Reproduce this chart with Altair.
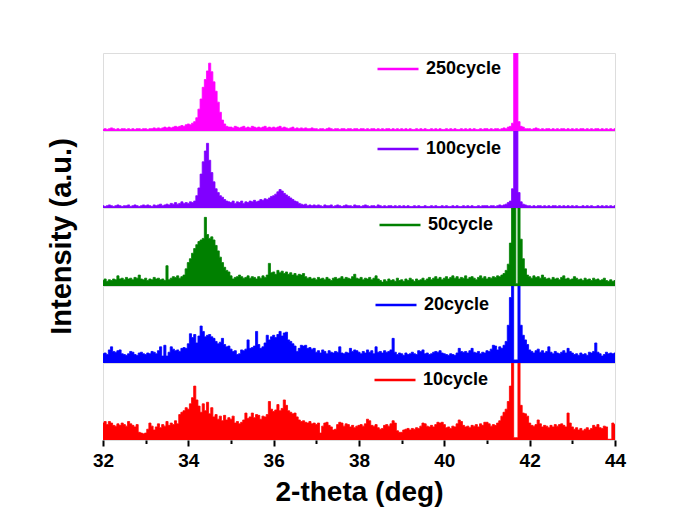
import altair as alt
import pandas as pd

# ---------------- data (percent of each panel's height, 0.05 deg steps from 32.00) ----------------
X_START = 32.0
X_STEP = 0.05
TICK_VALUES = list(range(32, 45))
SERIES_NAMES = ["250cycle", "100cycle", "50cycle", "20cycle", "10cycle"]
SERIES_COLORS = ["#FF00FF", "#8000FF", "#008000", "#0000FF", "#FF0000"]

C250 = [
    [2, 3, 2, 3, 4, 3, 2, 3, 2, 3, 3, 2, 3, 2, 3, 2, 3, 3, 2, 3],
    [3, 2, 3, 3, 4, 3, 4, 3, 4, 5, 4, 5, 4, 5, 6, 5, 6, 7, 6, 8],
    [9, 8, 10, 12, 17, 28, 41, 56, 66, 77, 87, 76, 63, 51, 37, 24, 14, 9, 6, 5],
    [5, 4, 6, 5, 4, 5, 6, 4, 5, 4, 6, 5, 4, 5, 4, 5, 6, 4, 5, 4],
    [5, 4, 5, 6, 4, 5, 4, 3, 4, 5, 3, 4, 3, 4, 3, 4, 3, 3, 4, 3],
    [3, 2, 3, 3, 2, 3, 4, 3, 2, 3, 3, 2, 3, 3, 2, 3, 3, 2, 3, 3],
    [2, 3, 3, 2, 3, 2, 3, 3, 2, 3, 2, 3, 2, 3, 3, 2, 3, 2, 3, 2],
    [3, 2, 3, 2, 3, 2, 2, 3, 2, 3, 2, 3, 2, 2, 3, 2, 3, 2, 3, 2],
    [2, 3, 2, 3, 2, 3, 2, 2, 3, 2, 3, 2, 3, 2, 3, 2, 2, 3, 2, 3],
    [3, 2, 3, 2, 3, 3, 2, 3, 4, 3, 5, 6, 10, 130, 130, 12, 6, 5, 3, 3],
    [3, 2, 3, 4, 3, 2, 3, 2, 3, 3, 2, 3, 2, 3, 2, 3, 3, 2, 3, 2],
    [3, 2, 3, 2, 3, 3, 2, 3, 2, 3, 2, 3, 3, 2, 3, 2, 3, 2, 3, 2],
    [3],
]

C100 = [
    [3, 2, 3, 4, 3, 2, 3, 4, 3, 2, 3, 3, 4, 2, 3, 4, 3, 2, 3, 4],
    [3, 4, 3, 2, 4, 3, 4, 5, 3, 4, 5, 4, 6, 5, 7, 5, 6, 8, 6, 7],
    [6, 8, 7, 9, 16, 26, 44, 60, 74, 84, 62, 46, 34, 25, 20, 16, 14, 11, 9, 8],
    [7, 9, 6, 8, 7, 9, 6, 8, 7, 9, 8, 10, 8, 9, 11, 10, 12, 11, 13, 15],
    [16, 18, 21, 24, 22, 19, 17, 15, 13, 11, 9, 8, 6, 5, 4, 5, 3, 4, 3, 4],
    [3, 4, 3, 2, 4, 3, 3, 4, 2, 3, 4, 3, 2, 3, 4, 3, 3, 2, 4, 3],
    [3, 2, 3, 4, 3, 2, 3, 3, 2, 4, 3, 2, 3, 2, 3, 3, 2, 3, 2, 3],
    [2, 3, 2, 3, 2, 2, 3, 2, 3, 2, 2, 3, 2, 2, 3, 2, 3, 2, 2, 3],
    [2, 3, 2, 2, 3, 2, 3, 2, 2, 3, 2, 3, 2, 3, 2, 2, 3, 2, 3, 3],
    [3, 2, 3, 3, 2, 3, 4, 3, 4, 5, 7, 9, 25, 130, 130, 20, 8, 5, 4, 3],
    [3, 2, 3, 2, 3, 3, 2, 3, 2, 3, 2, 3, 3, 2, 3, 2, 3, 2, 3, 2],
    [3, 2, 3, 2, 2, 3, 2, 3, 2, 3, 2, 2, 3, 2, 3, 2, 3, 2, 3, 2],
    [3],
]

C50 = [
    [7, 9, 6, 8, 7, 9, 8, 13, 9, 10, 8, 11, 9, 10, 8, 11, 10, 14, 9, 8],
    [10, 7, 9, 8, 11, 9, 10, 8, 9, 7, 26, 8, 10, 12, 11, 13, 10, 12, 14, 22],
    [30, 35, 42, 48, 53, 57, 59, 61, 88, 66, 61, 63, 59, 52, 45, 37, 30, 24, 20, 18],
    [13, 9, 11, 12, 14, 12, 10, 11, 13, 10, 12, 11, 9, 12, 10, 13, 11, 14, 29, 17],
    [18, 15, 20, 17, 19, 16, 18, 15, 17, 14, 16, 13, 15, 14, 16, 12, 10, 11, 9, 10],
    [8, 11, 9, 10, 8, 11, 9, 7, 10, 11, 9, 10, 12, 9, 11, 10, 9, 12, 15, 10],
    [9, 11, 8, 10, 9, 11, 8, 10, 13, 9, 7, 5, 8, 6, 9, 7, 8, 6, 10, 7],
    [8, 6, 9, 7, 10, 8, 6, 9, 7, 8, 10, 7, 9, 11, 8, 10, 12, 9, 11, 8],
    [10, 12, 9, 11, 13, 10, 12, 9, 11, 10, 13, 9, 11, 12, 10, 8, 11, 13, 10, 12],
    [9, 11, 10, 12, 11, 13, 12, 14, 16, 20, 28, 55, 130, 130, 3, 130, 60, 35, 22, 14],
    [12, 10, 13, 11, 12, 10, 14, 11, 9, 10, 8, 11, 9, 10, 8, 11, 13, 9, 10, 8],
    [9, 12, 10, 8, 9, 7, 10, 8, 9, 7, 10, 8, 9, 7, 8, 10, 7, 6, 8, 6],
    [7],
]

C20 = [
    [12, 13, 11, 17, 21, 15, 14, 16, 17, 12, 11, 10, 12, 15, 14, 11, 10, 13, 14, 12],
    [11, 13, 12, 15, 14, 12, 16, 21, 9, 23, 9, 14, 21, 18, 16, 17, 15, 19, 20, 19],
    [25, 38, 33, 37, 26, 35, 48, 41, 34, 36, 37, 34, 32, 28, 25, 27, 32, 24, 21, 22],
    [18, 15, 16, 11, 12, 17, 16, 18, 30, 19, 20, 22, 41, 24, 19, 21, 26, 36, 30, 34],
    [36, 33, 37, 41, 35, 39, 40, 30, 28, 25, 22, 15, 19, 23, 22, 23, 19, 20, 18, 19],
    [14, 16, 13, 17, 15, 12, 16, 14, 13, 15, 14, 21, 13, 12, 14, 13, 19, 15, 17, 16],
    [14, 12, 15, 13, 17, 14, 16, 12, 21, 14, 15, 13, 16, 14, 15, 17, 32, 14, 11, 13],
    [12, 10, 13, 11, 12, 14, 12, 11, 16, 15, 17, 12, 13, 11, 12, 14, 15, 14, 16, 13],
    [12, 11, 10, 12, 11, 10, 13, 19, 15, 14, 15, 13, 16, 19, 14, 13, 15, 12, 14, 13],
    [16, 15, 18, 23, 22, 17, 21, 19, 23, 28, 49, 85, 130, 4, 4, 130, 49, 36, 30, 24],
    [17, 15, 13, 16, 18, 14, 16, 13, 15, 21, 14, 12, 15, 13, 12, 14, 16, 13, 19, 15],
    [13, 11, 12, 10, 13, 11, 12, 10, 14, 13, 15, 26, 14, 12, 9, 11, 14, 12, 13, 12],
    [13],
]

C10 = [
    [22, 24, 20, 24, 22, 19, 18, 21, 19, 22, 20, 18, 24, 21, 19, 17, 20, 10, 9, 8],
    [9, 14, 22, 18, 13, 17, 21, 16, 20, 18, 24, 19, 22, 20, 25, 21, 33, 36, 38, 42],
    [40, 47, 55, 70, 52, 44, 36, 47, 38, 49, 34, 42, 30, 33, 27, 31, 25, 32, 26, 29],
    [27, 31, 22, 24, 21, 23, 26, 35, 28, 30, 35, 29, 33, 32, 27, 31, 30, 33, 50, 40],
    [37, 39, 46, 38, 41, 52, 45, 38, 36, 34, 35, 30, 26, 24, 25, 23, 22, 24, 21, 22],
    [20, 22, 9, 18, 22, 23, 19, 17, 13, 14, 20, 23, 22, 18, 21, 20, 17, 19, 16, 18],
    [19, 20, 18, 21, 27, 25, 19, 18, 20, 16, 14, 15, 19, 20, 18, 21, 25, 22, 12, 10],
    [10, 13, 14, 15, 13, 15, 14, 16, 15, 18, 22, 21, 18, 17, 19, 17, 20, 23, 22, 23],
    [20, 16, 17, 15, 18, 17, 21, 26, 24, 19, 17, 18, 16, 19, 18, 20, 17, 21, 19, 23],
    [23, 21, 18, 20, 19, 22, 25, 31, 36, 40, 50, 70, 130, 3, 3, 130, 45, 35, 34, 31],
    [22, 19, 18, 20, 26, 21, 17, 19, 18, 16, 19, 17, 20, 18, 20, 21, 19, 17, 35, 22],
    [17, 14, 16, 13, 15, 12, 14, 16, 13, 15, 19, 17, 20, 16, 15, 18, 17, 1, 1, 22],
    [20],
]

PANEL_HEIGHTS = [78, 77, 78, 77, 77]
LEGEND_X = [273, 273, 275, 271, 270]
LEGEND_Y = [-6, -4, -5, -3, -5]

FONT = "Liberation Sans"


def flat(rows):
    return [v for r in rows for v in r]


ALL = [flat(C250), flat(C100), flat(C50), flat(C20), flat(C10)]


def panel(idx):
    name = SERIES_NAMES[idx]
    color = SERIES_COLORS[idx]
    vals = ALL[idx]
    df = pd.DataFrame({
        "theta": [round(X_START + X_STEP * i, 2) for i in range(len(vals))],
        "intensity": vals,
        "series": [name] * len(vals),
    })
    last = idx == len(SERIES_NAMES) - 1
    middle = idx == 2
    if last:
        xaxis = alt.Axis(
            values=TICK_VALUES,
            labelExpr="datum.value % 2 === 0 ? datum.label : ''",
            domain=False, grid=False,
            tickColor="black", tickWidth=2,
            tickSize={"condition": {"test": "datum.value % 2 === 0", "value": 6}, "value": 3.5},
            labelFont=FONT, labelFontSize=19, labelFontWeight="bold", labelColor="black",
            labelPadding=5, labelFlush=False,
            title="2-theta (deg)", titleFont=FONT, titleFontSize=28, titleFontWeight="bold",
            titleColor="black", titleBaseline="alphabetic", titleY=60,
        )
    else:
        xaxis = None
    if middle:
        yaxis = alt.Axis(
            labels=False, ticks=False, domain=False, grid=False,
            title="Intensity (a.u.)", titleFont=FONT, titleFontSize=29, titleFontWeight="bold",
            titleColor="black", titleAngle=270, titleAlign="center", titleBaseline="alphabetic",
            titleX=-33, titleY=28,
        )
    else:
        yaxis = None
    return alt.Chart(df).mark_area(
        interpolate="step", clip=True, fill=color, opacity=1, strokeWidth=0.8
    ).encode(
        x=alt.X("theta:Q", scale=alt.Scale(domain=[32, 44], nice=False, zero=False), axis=xaxis),
        y=alt.Y("intensity:Q", scale=alt.Scale(domain=[0, 100], nice=False), axis=yaxis),
        stroke=alt.Stroke(
            "series:N",
            scale=alt.Scale(domain=[name], range=[color]),
            legend=alt.Legend(
                orient="none", legendX=LEGEND_X[idx], legendY=LEGEND_Y[idx], title=None,
                symbolType="stroke", symbolSize=1681, symbolStrokeWidth=2.5,
                symbolStrokeColor=color,
                labelFont=FONT, labelFontSize=18, labelFontWeight="bold", labelColor="black",
                labelOffset=6, padding=0,
            ),
        ),
    ).properties(width=512, height=PANEL_HEIGHTS[idx])


chart = alt.vconcat(*[panel(i) for i in range(5)], spacing=0).resolve_scale(
    stroke="independent", y="independent"
).resolve_legend(stroke="independent").properties(
    bounds="flush", padding={"left": 38, "top": 38, "right": 20, "bottom": 5}
).configure_view(stroke="black", strokeWidth=2).configure(background="white")

chart.save("out.html", embed_options={"renderer": "svg", "actions": False})
